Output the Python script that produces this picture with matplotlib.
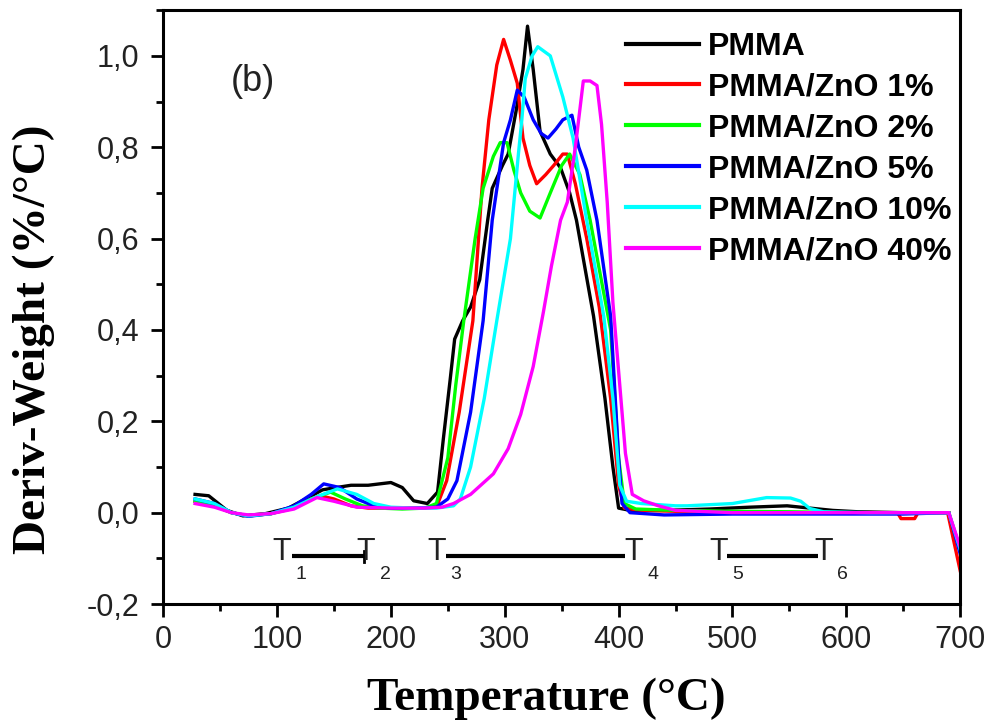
import matplotlib
matplotlib.use("Agg")
import matplotlib.pyplot as plt
from matplotlib.ticker import MultipleLocator, FuncFormatter

# DTG curves (temperature in degC, deriv. weight in %/degC)
t_pmma = [28, 40, 56, 70, 90, 110, 125, 140, 152, 165, 180, 200, 210, 220, 232, 241,
          246, 252, 256, 263, 270, 278, 285, 289, 298, 303, 310, 316, 320, 325, 331,
          340, 349, 357, 363, 378, 388, 395, 400, 410, 440, 480, 515, 548, 588, 610,
          650, 690]
w_pmma = [0.04, 0.037, 0.005, -0.007, -0.002, 0.01, 0.03, 0.05, 0.055, 0.06, 0.06,
          0.066, 0.055, 0.026, 0.02, 0.045, 0.16, 0.29, 0.38, 0.42, 0.45, 0.51, 0.64,
          0.71, 0.76, 0.785, 0.88, 0.97, 1.065, 0.97, 0.835, 0.785, 0.755, 0.70, 0.64,
          0.43, 0.25, 0.10, 0.01, 0.005, 0.005, 0.008, 0.012, 0.015, 0.005, 0.002,
          0.0, 0.0]

t_zno1 = [28, 45, 60, 75, 95, 115, 130, 138, 150, 165, 180, 200, 220, 240, 249, 260,
          272, 280, 286, 293, 299, 305, 311, 316, 322, 328, 336, 343, 351, 355, 362,
          372, 383, 393, 400, 405, 420, 450, 500, 550, 600, 645, 648, 660, 663, 680,
          689, 700]
w_zno1 = [0.025, 0.015, 0.0, -0.007, -0.002, 0.01, 0.03, 0.037, 0.03, 0.015, 0.01,
          0.01, 0.01, 0.012, 0.07, 0.22, 0.42, 0.71, 0.86, 0.98, 1.036, 0.99, 0.94,
          0.82, 0.76, 0.72, 0.74, 0.76, 0.785, 0.785, 0.72, 0.60, 0.45, 0.25, 0.06,
          0.01, 0.005, 0.003, 0.002, 0.0, 0.0, 0.0, -0.013, -0.013, 0.0, 0.0, 0.0,
          -0.127]

t_zno2 = [28, 45, 60, 75, 95, 115, 130, 147, 160, 175, 190, 210, 230, 240, 250, 257,
          264, 274, 281, 290, 296, 302, 308, 314, 322, 331, 340, 350, 357, 366, 375,
          384, 393, 400, 405, 415, 450, 500, 550, 600, 650, 690, 700]
w_zno2 = [0.025, 0.015, 0.0, -0.007, -0.002, 0.012, 0.03, 0.045, 0.03, 0.015, 0.01,
          0.008, 0.01, 0.02, 0.12, 0.28, 0.42, 0.60, 0.71, 0.78, 0.81, 0.81, 0.75,
          0.70, 0.66, 0.645, 0.70, 0.76, 0.785, 0.74, 0.64, 0.52, 0.40, 0.12, 0.02,
          0.008, 0.005, 0.003, 0.002, 0.0, 0.0, 0.0, -0.08]

t_zno5 = [28, 45, 60, 75, 95, 115, 130, 141, 155, 170, 185, 200, 220, 240, 250, 258,
          270, 281, 289, 299, 305, 311, 317, 325, 332, 338, 345, 351, 359, 365, 372,
          381, 393, 400, 403, 410, 440, 500, 550, 600, 650, 690, 700]
w_zno5 = [0.03, 0.02, 0.0, -0.008, -0.002, 0.015, 0.04, 0.063, 0.055, 0.03, 0.015,
          0.01, 0.01, 0.012, 0.03, 0.07, 0.22, 0.42, 0.64, 0.81, 0.86, 0.925, 0.91,
          0.86, 0.83, 0.82, 0.84, 0.86, 0.87, 0.80, 0.75, 0.64, 0.43, 0.12, 0.02, 0.0,
          -0.005, -0.003, -0.003, -0.003, -0.003, 0.0, -0.09]

t_zno10 = [28, 45, 60, 75, 95, 115, 135, 153, 170, 185, 200, 220, 240, 255, 261, 270,
           282, 293, 305, 312, 315, 318, 324, 329, 340, 351, 360, 366, 372, 387, 395,
           401, 407, 420, 450, 460, 500, 530, 551, 560, 568, 580, 620, 690, 700]
w_zno10 = [0.03, 0.02, 0.0, -0.007, -0.002, 0.012, 0.035, 0.052, 0.04, 0.02, 0.012,
           0.01, 0.01, 0.015, 0.03, 0.1, 0.25, 0.42, 0.60, 0.785, 0.86, 0.95, 1.0,
           1.02, 1.0, 0.91, 0.82, 0.73, 0.64, 0.43, 0.25, 0.06, 0.025, 0.02, 0.015,
           0.015, 0.02, 0.033, 0.032, 0.025, 0.009, 0.002, 0.0, 0.0, -0.08]

t_zno40 = [28, 45, 60, 75, 95, 115, 135, 150, 170, 200, 230, 245, 255, 270, 290, 303,
           314, 325, 334, 341, 349, 355, 362, 369, 375, 381, 385, 390, 395, 401, 406,
           412, 422, 435, 450, 500, 600, 690, 700]
w_zno40 = [0.02, 0.012, 0.0, -0.005, -0.002, 0.008, 0.033, 0.025, 0.012, 0.01, 0.01,
           0.012, 0.02, 0.04, 0.085, 0.14, 0.215, 0.32, 0.44, 0.54, 0.64, 0.68, 0.80,
           0.945, 0.945, 0.935, 0.85, 0.68, 0.46, 0.28, 0.13, 0.04, 0.026, 0.015,
           0.005, 0.0, 0.0, 0.0, -0.075]

labels = ["PMMA", "PMMA/ZnO 1%", "PMMA/ZnO 2%", "PMMA/ZnO 5%",
          "PMMA/ZnO 10%", "PMMA/ZnO 40%"]
colors = ["#000000", "#ff0000", "#00ff00", "#0000ff", "#00ffff", "#ff00ff"]
series = [(t_pmma, w_pmma), (t_zno1, w_zno1), (t_zno2, w_zno2),
          (t_zno5, w_zno5), (t_zno10, w_zno10), (t_zno40, w_zno40)]

# decomposition step markers T1..T6
step_names = ["1", "2", "3", "4", "5", "6"]
step_temps = [104, 178, 240, 413, 488, 580]
step_bars = [(113, 176), (248, 406), (495, 575)]

fig = plt.figure(figsize=(9.95, 7.26), dpi=100)
ax = fig.add_axes([0.164, 0.168, 0.801, 0.818])

for (t, w), lab, c in zip(series, labels, colors):
    ax.plot(t, w, color=c, lw=2.4, label=lab)

ax.set_xlim(0, 700)
ax.set_ylim(-0.2, 1.1)
ax.xaxis.set_major_locator(MultipleLocator(100))
ax.xaxis.set_minor_locator(MultipleLocator(50))
ax.yaxis.set_major_locator(MultipleLocator(0.2))
ax.yaxis.set_minor_locator(MultipleLocator(0.1))
ax.yaxis.set_major_formatter(FuncFormatter(lambda v, p: f"{v:.1f}".replace(".", ",")))
ax.xaxis.set_major_formatter(FuncFormatter(lambda v, p: f"{v:.0f}"))

for s in ax.spines.values():
    s.set_linewidth(2.2)
ax.tick_params(which="both", direction="out", width=2, top=False, right=False)
ax.tick_params(which="major", length=9, labelsize=22)
ax.tick_params(axis="x", which="major", pad=6)
ax.tick_params(axis="y", which="major", pad=8)
ax.tick_params(which="minor", length=5)
for lbl in ax.get_xticklabels() + ax.get_yticklabels():
    lbl.set_family("Liberation Sans")
    lbl.set_color("#222222")

# axis titles placed as in the original (not centred on the axes)
fig.text(546 / 995, 1 - 710 / 726, "Temperature (°C)", family="Liberation Serif",
         fontweight="bold", fontsize=34, ha="center", va="baseline")
fig.text(34 / 995, 1 - 339 / 726, "Deriv-Weight (%/°C)", family="Liberation Serif",
         fontweight="bold", fontsize=34, rotation=90, ha="center", va="center")

ax.text(79, 0.944, "(b)", fontsize=26, family="Liberation Sans",
        ha="center", va="center", color="#222222")

leg = ax.legend(loc="upper left", bbox_to_anchor=(0.571, 0.977), frameon=False,
                prop={"family": "Liberation Sans", "weight": "bold", "size": 23},
                handlelength=2.29, handletextpad=0.28, labelspacing=0.34,
                borderpad=0.25, borderaxespad=0.0)
for h in leg.get_lines():
    h.set_linewidth(3)

# step annotations
for name, temp in zip(step_names, step_temps):
    ax.text(temp, -0.087, "T", fontsize=22, family="Liberation Sans",
            ha="center", va="center", color="#222222")
    ax.text(temp + 17, -0.135, name, fontsize=14, family="Liberation Sans",
            ha="center", va="center", color="#222222")
for x0, x1 in step_bars:
    ax.plot([x0, x1], [-0.095, -0.095], color="black", lw=3, solid_capstyle="butt")
# small end mark on the first bar
ax.plot([step_bars[0][1], step_bars[0][1]], [-0.083, -0.107], color="black", lw=2)

fig.savefig("out.png", dpi=100)
